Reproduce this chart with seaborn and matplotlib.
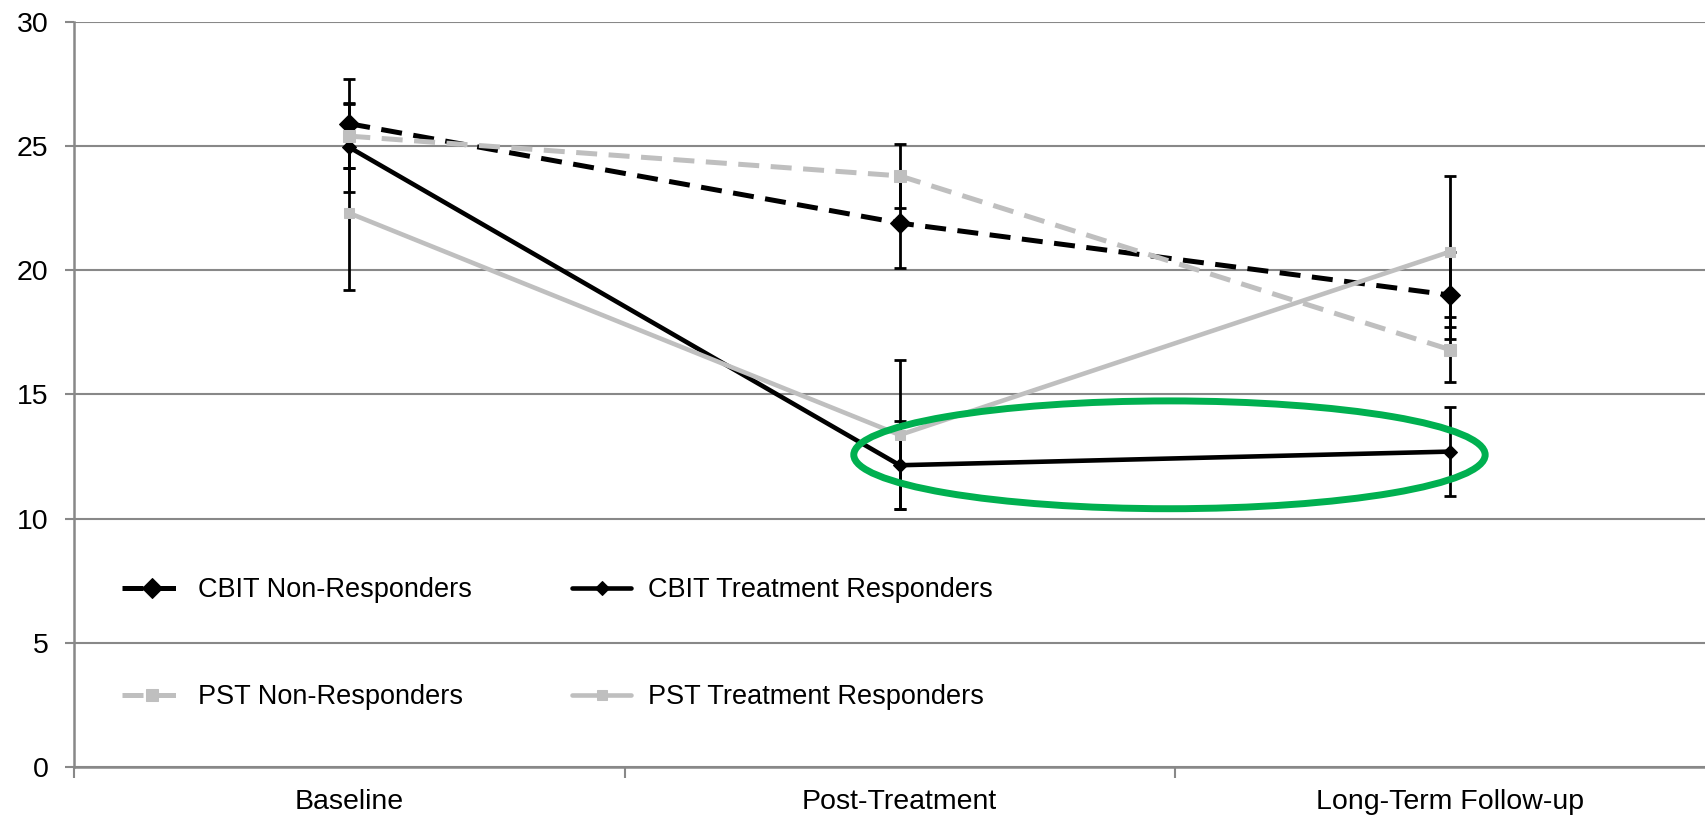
import matplotlib
matplotlib.use("Agg")
import matplotlib.pyplot as plt
from matplotlib.patches import Ellipse
import seaborn as sns

# data
timepoints = ["Baseline", "Post-Treatment", "Long-Term Follow-up"]
series_names = ["CBIT Non-Responders", "CBIT Treatment Responders",
                "PST Non-Responders", "PST Treatment Responders"]
cbit_nonresp = [25.9, 21.9, 19.0]
cbit_nonresp_err = [1.8, 1.8, 1.75]
cbit_resp = [24.95, 12.15, 12.7]
cbit_resp_err = [1.78, 1.78, 1.78]
pst_nonresp = [25.4, 23.8, 16.8]
pst_nonresp_err = [1.3, 1.3, 1.3]
pst_resp = [22.3, 13.37, 20.75]
pst_resp_err = [3.1, 3.0, 3.05]
y_ticks = [0, 5, 10, 15, 20, 25, 30]

values = [cbit_nonresp, cbit_resp, pst_nonresp, pst_resp]
errors = [cbit_nonresp_err, cbit_resp_err, pst_nonresp_err, pst_resp_err]

# look of each series
dash = (0, (4.2, 2.3))
styles = [
    dict(color="black", linestyle=dash, marker="D", markersize=10, lw=3.6),
    dict(color="black", linestyle="-", marker="D", markersize=7, lw=3.3),
    dict(color="#BFBFBF", linestyle=dash, marker="s", markersize=9, lw=3.6),
    dict(color="#BFBFBF", linestyle="-", marker="s", markersize=7, lw=3.3),
]

sns.set_style("white")
plt.rcParams["font.family"] = ["Liberation Sans", "DejaVu Sans"]
plt.rcParams["text.color"] = "black"

fig = plt.figure(figsize=(17.06, 8.16), dpi=100)
ax = fig.add_axes([0.0434, 0.060, 0.968, 0.9132])

for name, vals, errs, st in zip(series_names, values, errors, styles):
    ax.errorbar(timepoints, vals, yerr=errs, fmt="none", ecolor="black",
                elinewidth=2.0, capsize=4.5, capthick=2.0, zorder=2)
    sns.lineplot(x=timepoints, y=vals, ax=ax, label=name, errorbar=None,
                 color=st["color"], linestyle=st["linestyle"], lw=st["lw"],
                 marker=st["marker"], markersize=st["markersize"],
                 markeredgecolor=st["color"], markerfacecolor=st["color"],
                 zorder=3)

# highlight ring around the CBIT responders' follow-up segment
ax.add_patch(Ellipse((1.49, 12.57), width=1.147, height=4.34, fill=False,
                     ec="#00B050", lw=5, zorder=5))

ax.set_xlim(-0.5, 2.5)
ax.set_ylim(0, 30)
ax.set_yticks(y_ticks)
ax.set_xticks([-0.5, 0.5, 1.5, 2.5], minor=True)
ax.set_xlabel("")
ax.set_ylabel("")

grid_c = "#888888"
ax.grid(axis="y", color=grid_c, lw=1.5)
ax.grid(axis="x", visible=False)
ax.set_axisbelow(True)
for side in ["top", "right"]:
    ax.spines[side].set_visible(False)
for side in ["left", "bottom"]:
    ax.spines[side].set_color(grid_c)
    ax.spines[side].set_linewidth(1.8)

ax.tick_params(axis="y", which="major", left=True, length=6.5, width=1.5,
               color=grid_c, pad=12, labelsize=20.5, labelcolor="black")
ax.tick_params(axis="x", which="major", bottom=True, length=0, pad=16,
               labelsize=20.5, labelcolor="black")
ax.tick_params(axis="x", which="minor", bottom=True, length=8, width=1.5,
               color=grid_c)

h, l = ax.get_legend_handles_labels()
ax.legend(handles=[h[0], h[2], h[1], h[3]], labels=[l[0], l[2], l[1], l[3]],
          ncol=2, loc="upper left", bbox_to_anchor=(0.029, 0.255),
          frameon=False, fontsize=19.5, handlelength=2.2, handletextpad=0.6,
          columnspacing=3.7, labelspacing=3.0, borderpad=0, borderaxespad=0)

fig.savefig("out.png", dpi=100)
